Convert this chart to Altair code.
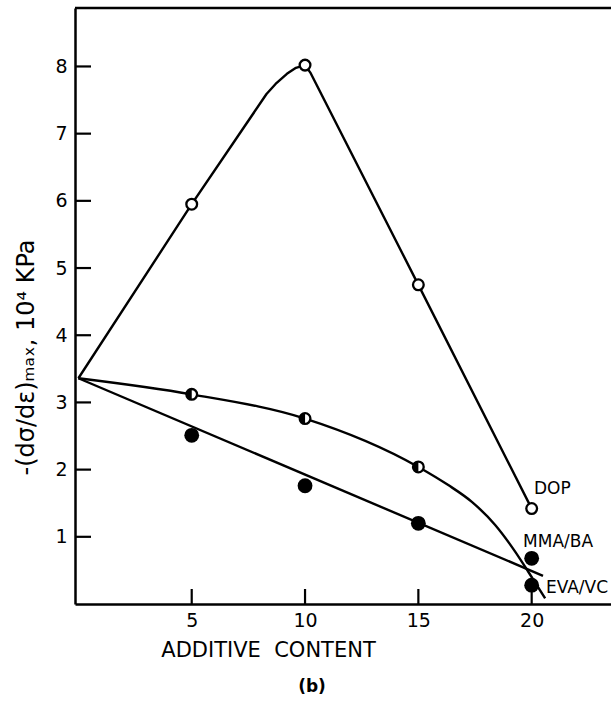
import altair as alt
import pandas as pd

# ---- data ----
pts_x = [5, 10, 15, 20]
dop_y = [5.95, 8.02, 4.75, 1.42]

half_x = [5, 10, 15]
half_y = [3.12, 2.76, 2.04]

filled_x = [5, 10, 15, 20, 20]
filled_y = [2.51, 1.76, 1.20, 0.68, 0.28]

# curves as drawn in the figure
dop_curve_x = [0, 5, 8.3, 8.7, 9.2, 9.6, 10, 10.25, 15, 20]
dop_curve_y = [3.36, 5.95, 7.59, 7.74, 7.89, 7.98, 8.02, 7.90, 4.75, 1.42]

half_curve_x = [0, 5, 10, 15, 16.32, 17.36, 18.38, 19.27, 19.85, 20.59]
half_curve_y = [3.36, 3.12, 2.76, 2.04, 1.77, 1.52, 1.18, 0.78, 0.48, 0.085]

fit_x = [0, 20.5]
fit_y = [3.36, 0.42]

label_text = ["DOP", "MMA/BA", "EVA/VC"]
label_x = [20.1, 19.62, 20.63]
label_y = [1.64, 0.85, 0.16]

x_ticks = [5, 10, 15, 20]
y_ticks = [1, 2, 3, 4, 5, 6, 7, 8]

FONT = "DejaVu Sans"
W, H = 536, 596
XDOM = [-0.15, 23.5]
YDOM = [0, 8.87]

x_axis = alt.Axis(values=x_ticks, ticks=False, grid=False, labelFontSize=19,
                  labelPadding=7, title="ADDITIVE\u00a0\u00a0CONTENT", titleFontSize=21,
                  titleFontWeight="normal", titleX=193, titleY=46,
                  titleBaseline="middle", titleAlign="center")
y_axis = alt.Axis(values=y_ticks, ticks=False, grid=False, labelFontSize=19,
                  labelPadding=8, title="-(dσ/dε)ₘₐₓ, 10⁴ KPa", titleFontSize=24,
                  titleFontWeight="normal", titleAngle=-90, titleX=-49, titleY=349,
                  titleBaseline="middle", titleAlign="center")


def X(field):
    return alt.X(field, type="quantitative", scale=alt.Scale(domain=XDOM, nice=False, zero=False), axis=x_axis)


def Y(field):
    return alt.Y(field, type="quantitative", scale=alt.Scale(domain=YDOM, nice=False, zero=False), axis=y_axis)


dop_curve = pd.DataFrame({"x": dop_curve_x, "y": dop_curve_y})
half_curve = pd.DataFrame({"x": half_curve_x, "y": half_curve_y})
fit_line = pd.DataFrame({"x": fit_x, "y": fit_y})
dop_pts = pd.DataFrame({"x": pts_x, "y": dop_y})
half_pts = pd.DataFrame({"x": half_x, "y": half_y})
filled_pts = pd.DataFrame({"x": filled_x, "y": filled_y})
labels = pd.DataFrame({"t": label_text, "x": label_x, "y": label_y})
xt = pd.DataFrame({"v": x_ticks})
yt = pd.DataFrame({"v": y_ticks})

LW = 2.4

l_dop = alt.Chart(dop_curve).mark_line(color="black", strokeWidth=LW, interpolate="linear",
                                       strokeJoin="round").encode(x=X("x"), y=Y("y"))
l_half = alt.Chart(half_curve).mark_line(color="black", strokeWidth=LW, interpolate="monotone").encode(
    x=X("x"), y=Y("y"))
l_fit = alt.Chart(fit_line).mark_line(color="black", strokeWidth=LW).encode(
    x=X("x"), y=Y("y"))

# top frame line
top = alt.Chart(pd.DataFrame({"t": [0]})).mark_rule(color="black", strokeWidth=2.5).encode(
    y=alt.value(0), x=alt.value(0), x2=alt.value(W))

p_dop = alt.Chart(dop_pts).mark_point(shape="circle", filled=True, fill="white", stroke="black",
                                     strokeWidth=2.3, size=115, opacity=1).encode(x=X("x"), y=Y("y"))
p_half_ring = alt.Chart(half_pts).mark_point(shape="circle", filled=True, fill="white", stroke="black",
                                            strokeWidth=2.3, size=115, opacity=1).encode(x=X("x"), y=Y("y"))
p_half_fill = alt.Chart(half_pts).mark_point(shape="M0,-1A1,1,0,0,0,0,1Z", filled=True, fill="black",
                                            strokeWidth=0, size=115, opacity=1).encode(x=X("x"), y=Y("y"))
p_filled = alt.Chart(filled_pts).mark_point(shape="circle", filled=True, fill="black", strokeWidth=0,
                                           size=220, opacity=1).encode(x=X("x"), y=Y("y"))

txt = alt.Chart(labels).mark_text(font=FONT, fontSize=17, align="left", baseline="alphabetic",
                                  color="black").encode(x=X("x"), y=Y("y"), text="t:N")

xtick = alt.Chart(xt).mark_rule(color="black", strokeWidth=2.2).encode(
    x=X("v"), y=alt.value(H), y2=alt.value(H - 15))
ytick = alt.Chart(yt).mark_rule(color="black", strokeWidth=2.2).encode(
    y=Y("v"), x=alt.value(0), x2=alt.value(16))

caption = alt.Chart(pd.DataFrame({"t": ["(b)"]})).mark_text(
    font=FONT, fontSize=17, fontWeight="bold", align="center", baseline="middle", color="black"
).encode(text="t:N", x=alt.value(237), y=alt.value(679))

chart = alt.layer(l_dop, l_half, l_fit, top, xtick, ytick, p_dop, p_half_ring, p_half_fill,
                  p_filled, txt, caption).properties(
    width=W, height=H,
    autosize=alt.AutoSizeParams(type="none"),
    padding={"left": 75, "top": 8, "right": 0, "bottom": 100},
    background="white",
).configure_view(stroke=None).configure_axis(
    domainColor="black", domainWidth=2.5, labelColor="black", titleColor="black",
    labelFont=FONT, titleFont=FONT,
)

chart.save("out.html", embed_options={"renderer": "svg", "actions": False})
